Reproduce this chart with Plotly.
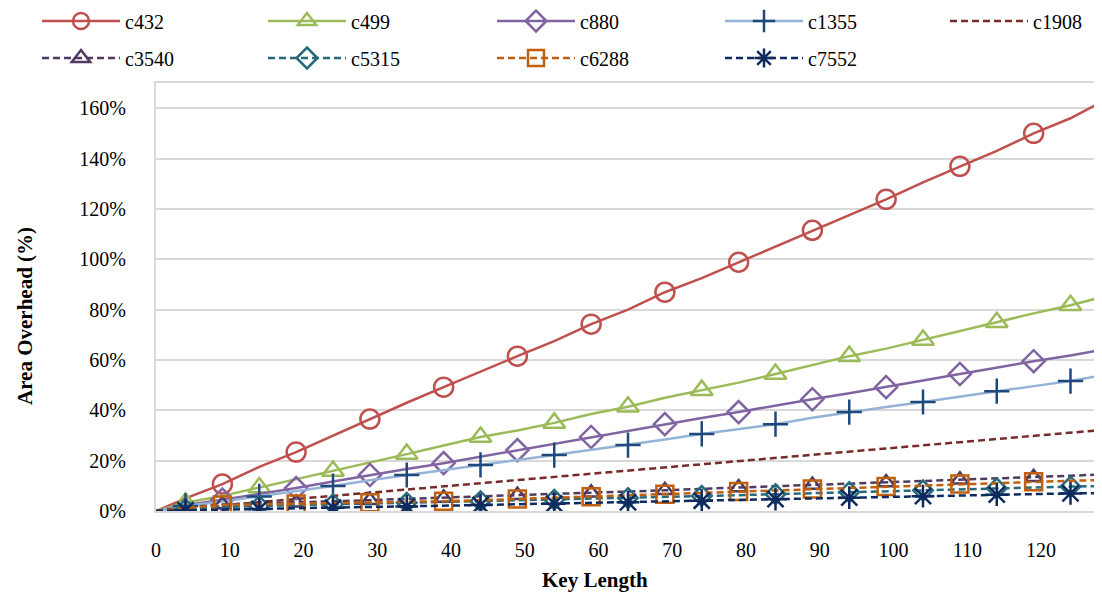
import plotly.graph_objects as go

key_length = [0, 4, 9, 14, 19, 24, 29, 34, 39, 44, 49, 54, 59, 64, 69, 74, 79, 84, 89, 94, 99, 104, 109, 114, 119, 124, 128]

c432 = [0, 5.0, 10.7, 17.5, 23.4, 30.0, 36.5, 43.0, 49.2, 55.5, 61.5, 67.5, 74.2, 80.0, 86.9, 92.5, 98.8, 105.0, 111.5, 117.5, 123.8, 130.5, 136.9, 143.0, 150.0, 156.0, 162.2]
c499 = [0, 3.3, 6.0, 9.3, 12.5, 15.9, 19.0, 22.6, 26.0, 29.4, 32.0, 35.0, 38.5, 41.4, 45.0, 48.0, 51.0, 54.4, 58.0, 61.5, 64.5, 67.9, 71.5, 75.0, 78.5, 81.7, 84.8]
c880 = [0, 2.3, 4.5, 6.8, 9.1, 11.7, 14.3, 16.7, 19.0, 21.6, 24.2, 26.8, 29.4, 31.9, 34.5, 36.9, 39.3, 41.9, 44.4, 46.8, 49.2, 51.8, 54.4, 57.0, 59.5, 61.8, 63.9]
c1355 = [0, 2.0, 3.8, 5.8, 8.0, 9.9, 12.2, 14.3, 16.3, 18.3, 20.3, 22.2, 24.2, 26.2, 28.4, 30.6, 32.5, 34.5, 37.0, 39.3, 41.3, 43.3, 45.5, 47.6, 49.6, 51.6, 53.8]
c1908 = [0, 1.0, 2.3, 3.5, 4.8, 6.0, 7.3, 8.5, 9.8, 11.0, 12.3, 13.5, 14.8, 16.0, 17.3, 18.5, 19.8, 21.0, 22.3, 23.5, 24.8, 26.0, 27.3, 28.5, 29.8, 31.0, 32.1]
c3540 = [0, 1.5, 2.6, 3.0, 3.3, 3.8, 4.3, 4.8, 5.2, 5.8, 6.3, 6.8, 7.2, 7.8, 8.2, 8.8, 9.3, 9.8, 10.3, 10.9, 11.3, 11.9, 12.4, 12.9, 13.4, 14.0, 14.5]
c5315 = [0, 0.8, 1.5, 2.0, 2.4, 2.7, 3.0, 3.3, 3.6, 3.9, 4.2, 4.5, 4.9, 5.2, 5.6, 6.0, 6.3, 6.7, 7.1, 7.5, 7.9, 8.2, 8.6, 9.0, 9.3, 9.7, 9.9]
c6288 = [0, 1.2, 2.4, 2.6, 2.8, 3.0, 3.3, 3.6, 3.9, 4.3, 4.8, 5.2, 5.7, 6.2, 6.7, 7.2, 7.7, 8.2, 8.7, 9.2, 9.7, 10.2, 10.7, 11.2, 11.6, 12.0, 12.3]
c7552 = [0, 0.3, 0.6, 0.8, 1.1, 1.3, 1.6, 1.8, 2.1, 2.4, 2.7, 2.9, 3.2, 3.5, 3.8, 4.1, 4.4, 4.7, 5.0, 5.3, 5.6, 5.9, 6.2, 6.5, 6.8, 7.0, 7.1]

y_ticks = [0, 20, 40, 60, 80, 100, 120, 140, 160]
y_tick_labels = ["0%", "20%", "40%", "60%", "80%", "100%", "120%", "140%", "160%"]
x_ticks = [0, 10, 20, 30, 40, 50, 60, 70, 80, 90, 100, 110, 120]

# marker positions (keys ending in 9 or in 4)
marks_9 = [k for k in key_length if k % 10 == 9]
marks_4 = [k for k in key_length if k % 10 == 4]

series = [
    # name, values, line color, marker color, symbol, dash, marker keys, size
    ("c432", c432, "#C0504D", "#C0504D", "circle-open", "solid", marks_9, 19),
    ("c499", c499, "#9BBB59", "#9BBB59", "triangle-up-open", "solid", marks_4, 19),
    ("c880", c880, "#8064A2", "#8064A2", "diamond-open", "solid", marks_9, 17),
    ("c1355", c1355, "#95B3D7", "#1F497D", "cross-thin-open", "solid", marks_4, 18),
    ("c1908", c1908, "#772C2A", "#772C2A", None, "7px,4px", [], 0),
    ("c3540", c3540, "#4F3B62", "#4F3B62", "triangle-up-open", "7px,4px", marks_9, 15),
    ("c5315", c5315, "#276A7C", "#276A7C", "diamond-open", "7px,4px", marks_4, 15),
    ("c6288", c6288, "#C0600F", "#C0600F", "square-open", "7px,4px", marks_9, 17),
    ("c7552", c7552, "#0E2A5E", "#0E2A5E", "asterisk-open", "7px,4px", marks_4, 19),
]

fig = go.Figure()
for name, vals, lc, mc, sym, dash, mk, size in series:
    fig.add_trace(go.Scatter(
        x=key_length, y=vals, mode="lines", name=name, showlegend=False,
        line=dict(color=lc, width=2.5, dash=dash), hoverinfo="skip"))
    if sym:
        xs = [k for k in key_length if k in mk]
        ys = [v for k, v in zip(key_length, vals) if k in mk]
        fig.add_trace(go.Scatter(
            x=xs, y=ys, mode="markers", name=name, showlegend=False,
            marker=dict(symbol=sym, size=size, color=mc, line=dict(color=mc, width=2.5))))

# page has an 8px body margin: figure is drawn at (8, 8)
W, H = 1094, 588
OFF = 8
font = "Liberation Serif, Times New Roman, serif"
legends = {}
for i, (name, vals, lc, mc, sym, dash, mk, size) in enumerate(series):
    key = "legend" if i == 0 else f"legend{i + 1}"
    row, col = divmod(i, 5)
    fig.add_trace(go.Scatter(
        x=[None], y=[None], name=name, legend=key,
        mode="lines+markers" if sym else "lines",
        line=dict(color=lc, width=2.5, dash=dash),
        marker=dict(symbol=sym or "circle", size=16, color=mc,
                    line=dict(color=mc, width=2.5))))
    text_x = [125, 351, 580, 808, 1033][col]
    legends[key] = dict(orientation="h", xref="container", yref="container",
                        x=(text_x - 88 - OFF) / W, y=1 - ([21, 58][row] - OFF) / H,
                        xanchor="left", yanchor="middle", itemwidth=78,
                        font=dict(family=font, size=20, color="#000"),
                        bgcolor="rgba(0,0,0,0)")

fig.update_layout(
    width=W, height=H,
    margin=dict(l=156 - OFF, r=W - (1100 - OFF), t=83 - OFF, b=H - (511 - OFF), autoexpand=False),
    paper_bgcolor="white", plot_bgcolor="white",
    font=dict(family=font, size=20, color="#000"),
    xaxis=dict(range=[0, 128], tickvals=x_ticks, showgrid=False, zeroline=False,
               showline=True, linecolor="#D9D9D9", linewidth=2, mirror=True,
               ticks="", ticklabelstandoff=20,
               tickfont=dict(family=font, size=20, color="#000")),
    yaxis=dict(range=[0, 170], tickvals=y_ticks, ticktext=y_tick_labels,
               showgrid=True, gridcolor="#D9D9D9", gridwidth=2, zeroline=False,
               showline=True, linecolor="#D9D9D9", linewidth=2, mirror=True,
               ticks="", ticklabelstandoff=24,
               tickfont=dict(family=font, size=20, color="#000")),
    annotations=[
        dict(text="<b>Key Length</b>", xref="paper", yref="paper", x=(595 - 156) / 944,
             y=(511 - 580) / 428, showarrow=False, font=dict(family=font, size=21),
             xanchor="center", yanchor="middle"),
        dict(text="<b>Area Overhead (%)</b>", xref="paper", yref="paper", x=(25 - 156) / 944,
             y=(511 - 316) / 428, textangle=-90, showarrow=False, font=dict(family=font, size=21),
             xanchor="center", yanchor="middle"),
    ],
    **legends,
)
fig.write_html("out.html")
